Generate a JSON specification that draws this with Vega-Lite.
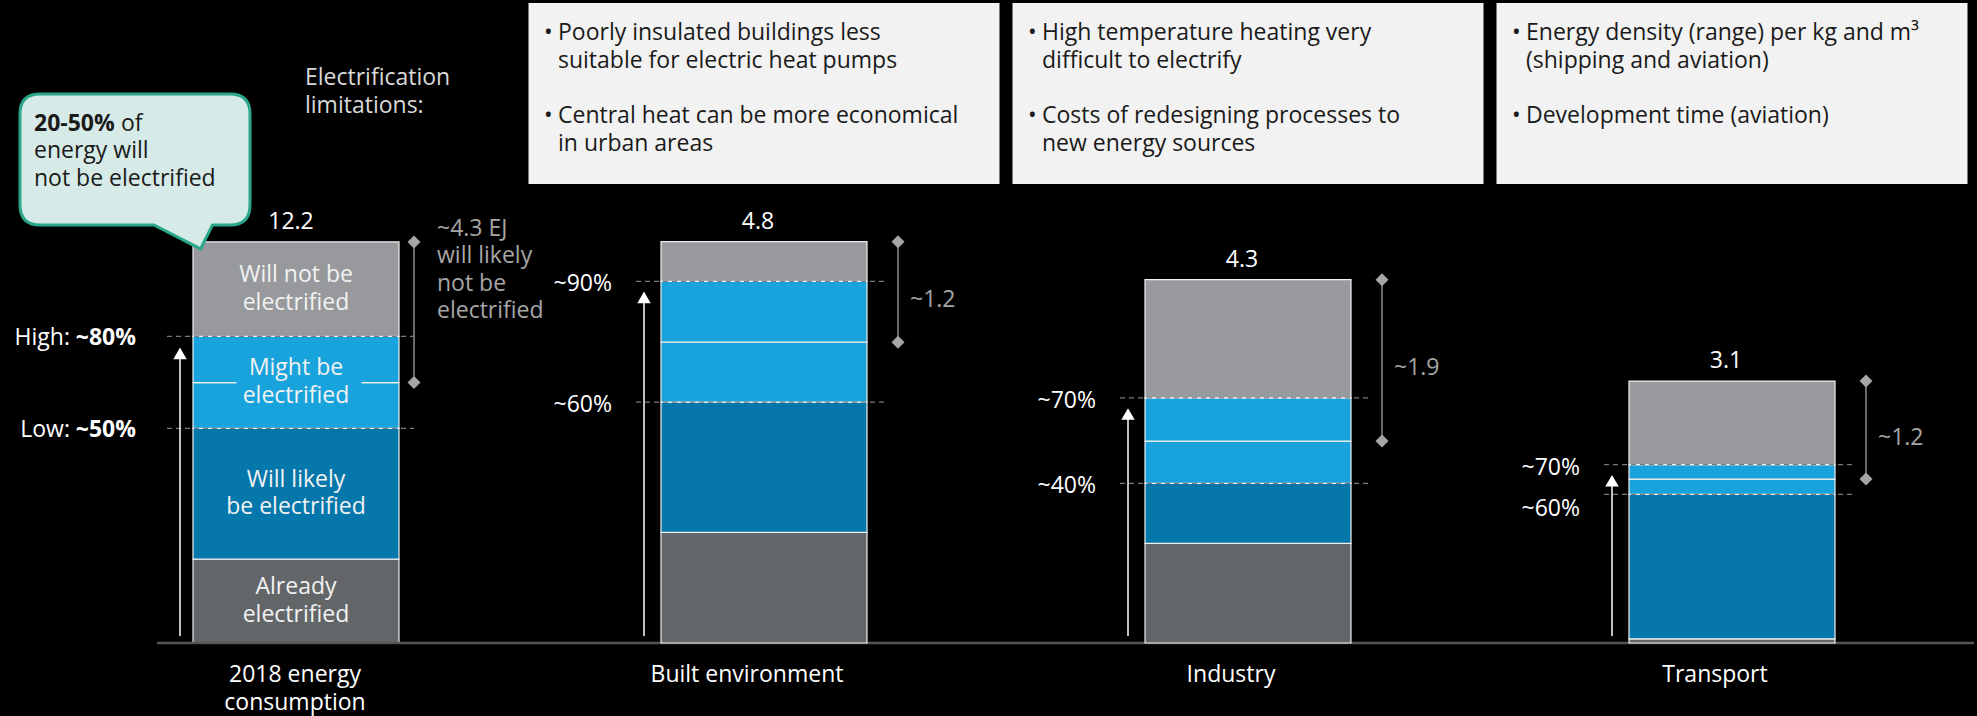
{
  "$schema": "https://vega.github.io/schema/vega-lite/v6.json",
  "width": 1936,
  "height": 643,
  "autosize": "none",
  "padding": {"left": 38, "right": 3, "top": 0, "bottom": 73},
  "background": "#000000",
  "config": {"view": {"stroke": null}, "font": "Open Sans"},
  "datasets": {
    "bars": [
      {"sector": "2018 energy consumption", "seg": "already", "category": "Already electrified", "order": 1, "value": 2.54, "label": "Already\nelectrified"},
      {"sector": "2018 energy consumption", "seg": "likely", "category": "Will likely be electrified", "order": 2, "value": 3.96, "label": "Will likely\nbe electrified", "pct": "~50%", "prefix": "Low:"},
      {"sector": "2018 energy consumption", "seg": "might_low", "category": "Might be electrified", "order": 3, "value": 1.39, "label": "Might be\nelectrified"},
      {"sector": "2018 energy consumption", "seg": "might_high", "category": "Might be electrified", "order": 4, "value": 1.40, "label": "Might be\nelectrified", "pct": "~80%", "prefix": "High:"},
      {"sector": "2018 energy consumption", "seg": "willnot", "category": "Will not be electrified", "order": 5, "value": 2.86, "label": "Will not be\nelectrified", "total": "12.2", "rangeLabel": "~4.3 EJ\nwill likely\nnot be\nelectrified"},
      {"sector": "Built environment", "seg": "already", "category": "Already electrified", "order": 1, "value": 1.31},
      {"sector": "Built environment", "seg": "likely", "category": "Will likely be electrified", "order": 2, "value": 1.54, "pct": "~60%"},
      {"sector": "Built environment", "seg": "might_low", "category": "Might be electrified", "order": 3, "value": 0.71},
      {"sector": "Built environment", "seg": "might_high", "category": "Might be electrified", "order": 4, "value": 0.72, "pct": "~90%"},
      {"sector": "Built environment", "seg": "willnot", "category": "Will not be electrified", "order": 5, "value": 0.47, "total": "4.8", "rangeLabel": "~1.2"},
      {"sector": "Industry", "seg": "already", "category": "Already electrified", "order": 1, "value": 1.18},
      {"sector": "Industry", "seg": "likely", "category": "Will likely be electrified", "order": 2, "value": 0.71, "pct": "~40%"},
      {"sector": "Industry", "seg": "might_low", "category": "Might be electrified", "order": 3, "value": 0.50},
      {"sector": "Industry", "seg": "might_high", "category": "Might be electrified", "order": 4, "value": 0.51, "pct": "~70%"},
      {"sector": "Industry", "seg": "willnot", "category": "Will not be electrified", "order": 5, "value": 1.40, "total": "4.3", "rangeLabel": "~1.9"},
      {"sector": "Transport", "seg": "already", "category": "Already electrified", "order": 1, "value": 0.05},
      {"sector": "Transport", "seg": "likely", "category": "Will likely be electrified", "order": 2, "value": 1.71, "pct": "~60%"},
      {"sector": "Transport", "seg": "might_low", "category": "Might be electrified", "order": 3, "value": 0.18},
      {"sector": "Transport", "seg": "might_high", "category": "Might be electrified", "order": 4, "value": 0.17, "pct": "~70%"},
      {"sector": "Transport", "seg": "willnot", "category": "Will not be electrified", "order": 5, "value": 0.99, "total": "3.1", "rangeLabel": "~1.2"}
    ],
    "header": [
      {"sector": "Built environment", "bullet": 1, "lines": "Poorly insulated buildings less\nsuitable for electric heat pumps"},
      {"sector": "Built environment", "bullet": 2, "lines": "Central heat can be more economical\nin urban areas"},
      {"sector": "Industry", "bullet": 1, "lines": "High temperature heating very\ndifficult to electrify"},
      {"sector": "Industry", "bullet": 2, "lines": "Costs of redesigning processes to\nnew energy sources"},
      {"sector": "Transport", "bullet": 1, "lines": "Energy density (range) per kg and m³\n(shipping and aviation)"},
      {"sector": "Transport", "bullet": 2, "lines": "Development time (aviation)"}
    ]
  },
  "encoding": {
    "x": {"field": "sector", "type": "nominal", "scale": {"domain": ["2018 energy consumption", "Built environment", "Industry", "Transport"], "paddingInner": 0.5744, "paddingOuter": 0.2872}, "axis": null}
  },
  "resolve": {"scale": {"y": "independent"}},
  "layer": [
    {
      "data": {"name": "bars"},
      "transform": [
        {"filter": "datum.sector === '2018 energy consumption'"},
        {"stack": "value", "groupby": ["sector"], "sort": [{"field": "order", "order": "ascending"}], "as": ["v0", "v1"]}
      ],
      "layer": [
        {
          "mark": {"type": "bar", "xOffset": 16, "stroke": "#f0f0f0", "strokeWidth": 1.2},
          "encoding": {
            "y": {"field": "v0", "type": "quantitative", "scale": {"domain": [0, 19.48], "nice": false, "zero": false}, "axis": null},
            "y2": {"field": "v1"},
            "color": {"field": "category", "type": "nominal", "scale": {"domain": ["Already electrified", "Will likely be electrified", "Might be electrified", "Will not be electrified"], "range": ["#636669", "#0677ab", "#19a3dc", "#97999c"]}, "legend": null}
          }
        },
        {
          "transform": [{"filter": "datum.seg === 'might_high'"}],
          "mark": {"type": "tick", "orient": "horizontal", "xOffset": 19, "size": 125, "thickness": 5, "color": "#19a3dc", "opacity": 1},
          "encoding": {"y": {"field": "v0", "type": "quantitative", "scale": {"domain": [0, 19.48], "nice": false, "zero": false}, "axis": null}}
        },
        {
          "transform": [{"filter": "isValid(datum.pct)"}],
          "mark": {"type": "rule", "xOffset": -113, "x2Offset": 134, "strokeDash": [5, 4], "color": "#7a7a7a", "strokeWidth": 1.2},
          "encoding": {
            "x2": {"field": "sector", "bandPosition": 0.5},
            "y": {"field": "v1", "type": "quantitative", "scale": {"domain": [0, 19.48], "nice": false, "zero": false}, "axis": null}
          }
        },
        {
          "transform": [{"filter": "isValid(datum.pct)"}],
          "mark": {"type": "text", "align": "right", "baseline": "middle", "fontSize": 23, "fontWeight": "bold", "color": "#ffffff", "dx": -144, "dy": 2},
          "encoding": {
            "y": {"field": "v1", "type": "quantitative", "scale": {"domain": [0, 19.48], "nice": false, "zero": false}, "axis": null},
            "text": {"field": "pct", "type": "nominal"}
          }
        },
        {
          "transform": [{"filter": "isValid(datum.prefix)"}],
          "mark": {"type": "text", "align": "right", "baseline": "middle", "fontSize": 23, "color": "#ffffff", "dx": -210, "dy": 2},
          "encoding": {
            "y": {"field": "v1", "type": "quantitative", "scale": {"domain": [0, 19.48], "nice": false, "zero": false}, "axis": null},
            "text": {"field": "prefix", "type": "nominal"}
          }
        },
        {
          "transform": [{"filter": "datum.seg === 'might_high'"}],
          "mark": {"type": "rule", "xOffset": -100, "yOffset": 20, "y2Offset": -7, "color": "#ffffff", "strokeWidth": 1.5},
          "encoding": {
            "y": {"field": "v1", "type": "quantitative", "scale": {"domain": [0, 19.48], "nice": false, "zero": false}, "axis": null},
            "y2": {"datum": 0}
          }
        },
        {
          "transform": [{"filter": "datum.seg === 'might_high'"}],
          "mark": {"type": "point", "shape": "triangle-up", "filled": true, "size": 180, "color": "#ffffff", "opacity": 1, "xOffset": -100, "yOffset": 17},
          "encoding": {"y": {"field": "v1", "type": "quantitative", "scale": {"domain": [0, 19.48], "nice": false, "zero": false}, "axis": null}}
        },
        {
          "transform": [{"filter": {"field": "seg", "oneOf": ["might_high", "willnot"]}}],
          "mark": {"type": "rule", "xOffset": 134, "color": "#8c8c8c", "strokeWidth": 1.5},
          "encoding": {
            "y": {"field": "v0", "aggregate": "min", "type": "quantitative", "scale": {"domain": [0, 19.48], "nice": false, "zero": false}, "axis": null},
            "y2": {"field": "v1", "aggregate": "max"}
          }
        },
        {
          "transform": [{"filter": {"field": "seg", "oneOf": ["might_high", "willnot"]}}],
          "mark": {"type": "point", "shape": "diamond", "filled": true, "size": 169, "color": "#a6a6a6", "opacity": 1, "xOffset": 134},
          "encoding": {"y": {"field": "v0", "aggregate": "min", "type": "quantitative", "scale": {"domain": [0, 19.48], "nice": false, "zero": false}, "axis": null}}
        },
        {
          "transform": [{"filter": {"field": "seg", "oneOf": ["might_high", "willnot"]}}],
          "mark": {"type": "point", "shape": "diamond", "filled": true, "size": 169, "color": "#a6a6a6", "opacity": 1, "xOffset": 134},
          "encoding": {"y": {"field": "v1", "aggregate": "max", "type": "quantitative", "scale": {"domain": [0, 19.48], "nice": false, "zero": false}, "axis": null}}
        },
        {
          "transform": [{"filter": "datum.seg === 'willnot'"}],
          "mark": {"type": "text", "align": "left", "baseline": "alphabetic", "fontSize": 23, "color": "#a6a6a6", "dx": 157, "dy": -6, "lineBreak": "\n", "lineHeight": 27.5},
          "encoding": {
            "y": {"field": "v1", "type": "quantitative", "scale": {"domain": [0, 19.48], "nice": false, "zero": false}, "axis": null},
            "text": {"field": "rangeLabel", "type": "nominal"}
          }
        },
        {
          "transform": [{"filter": "datum.seg === 'willnot'"}],
          "mark": {"type": "text", "align": "center", "baseline": "middle", "fontSize": 23, "color": "#ffffff", "dx": 11, "dy": -20},
          "encoding": {
            "y": {"field": "v1", "type": "quantitative", "scale": {"domain": [0, 19.48], "nice": false, "zero": false}, "axis": null},
            "text": {"field": "total", "type": "nominal"}
          }
        },
        {
          "transform": [
            {"filter": "isValid(datum.label)"},
            {"fold": ["v0", "v1"], "as": ["edge", "ev"]}
          ],
          "mark": {"type": "text", "align": "center", "baseline": "alphabetic", "fontSize": 23, "color": "#f2f2f2", "dx": 16, "dy": -7, "lineBreak": "\n", "lineHeight": 27.5},
          "encoding": {
            "y": {"field": "ev", "aggregate": "mean", "type": "quantitative", "scale": {"domain": [0, 19.48], "nice": false, "zero": false}, "axis": null},
            "text": {"field": "label", "type": "nominal"}
          }
        },
        {
          "transform": [{"filter": "datum.seg === 'willnot'"}],
          "mark": {"type": "text", "align": "center", "baseline": "alphabetic", "fontSize": 23, "color": "#ffffff", "dx": 15, "dy": 39, "lineBreak": "\n", "lineHeight": 28},
          "encoding": {
            "y": {"datum": 0, "type": "quantitative", "scale": {"domain": [0, 19.48], "nice": false, "zero": false}, "axis": null},
            "text": {"value": "2018 energy\nconsumption"}
          }
        },
        {
          "transform": [{"filter": "datum.seg === 'willnot'"}],
          "mark": {"type": "point", "shape": "M-0.826,-0.5696L0.826,-0.5696Q1,-0.5696 1,-0.3956L1,0.3956Q1,0.5696 0.826,0.5696L0.674,0.5696L0.57,0.778L0.165,0.5696L-0.826,0.5696Q-1,0.5696 -1,0.3956L-1,-0.3956Q-1,-0.5696 -0.826,-0.5696Z", "size": 52900, "filled": true, "fill": "#d6ebe7", "stroke": "#2aa68a", "strokeWidth": 3, "opacity": 1, "fillOpacity": 1, "xOffset": -145, "yOffset": -82.5},
          "encoding": {"y": {"field": "v1", "type": "quantitative", "scale": {"domain": [0, 19.48], "nice": false, "zero": false}, "axis": null}}
        },
        {
          "transform": [{"filter": "datum.seg === 'willnot'"}],
          "mark": {"type": "text", "align": "left", "baseline": "alphabetic", "fontSize": 23, "fontWeight": "bold", "color": "#1a1a1a", "dx": -246, "dy": -111},
          "encoding": {
            "y": {"field": "v1", "type": "quantitative", "scale": {"domain": [0, 19.48], "nice": false, "zero": false}, "axis": null},
            "text": {"value": "20-50%"}
          }
        },
        {
          "transform": [{"filter": "datum.seg === 'willnot'"}],
          "mark": {"type": "text", "align": "left", "baseline": "alphabetic", "fontSize": 23, "color": "#1a1a1a", "dx": -159, "dy": -111},
          "encoding": {
            "y": {"field": "v1", "type": "quantitative", "scale": {"domain": [0, 19.48], "nice": false, "zero": false}, "axis": null},
            "text": {"value": "of"}
          }
        },
        {
          "transform": [{"filter": "datum.seg === 'willnot'"}],
          "mark": {"type": "text", "align": "left", "baseline": "alphabetic", "fontSize": 23, "color": "#1a1a1a", "dx": -246, "dy": -84, "lineBreak": "\n", "lineHeight": 28},
          "encoding": {
            "y": {"field": "v1", "type": "quantitative", "scale": {"domain": [0, 19.48], "nice": false, "zero": false}, "axis": null},
            "text": {"value": "energy will\nnot be electrified"}
          }
        }
      ]
    },
    {
      "data": {"name": "bars"},
      "transform": [
        {"filter": "datum.sector !== '2018 energy consumption'"},
        {"stack": "value", "groupby": ["sector"], "sort": [{"field": "order", "order": "ascending"}], "as": ["v0", "v1"]}
      ],
      "layer": [
        {
          "transform": [{"filter": "datum.seg === 'willnot' && datum.sector === 'Transport'"}],
          "mark": {"type": "rule", "xOffset": -123, "x2Offset": 242, "color": "#555555", "strokeWidth": 2.5},
          "encoding": {
            "x": {"datum": "2018 energy consumption", "bandPosition": 0.5},
            "x2": {"datum": "Transport", "bandPosition": 0.5},
            "y": {"datum": 0, "type": "quantitative", "scale": {"domain": [0, 7.61], "nice": false, "zero": false}, "axis": null}
          }
        },
        {
          "mark": {"type": "bar", "stroke": "#f0f0f0", "strokeWidth": 1.2},
          "encoding": {
            "y": {"field": "v0", "type": "quantitative", "scale": {"domain": [0, 7.61], "nice": false, "zero": false}, "axis": null},
            "y2": {"field": "v1"},
            "color": {"field": "category", "type": "nominal", "legend": null}
          }
        },
        {
          "transform": [{"filter": "isValid(datum.pct)"}],
          "mark": {"type": "rule", "xOffset": -128, "x2Offset": 120, "strokeDash": [5, 4], "color": "#7a7a7a", "strokeWidth": 1.2},
          "encoding": {
            "x2": {"field": "sector", "bandPosition": 0.5},
            "y": {"field": "v1", "type": "quantitative", "scale": {"domain": [0, 7.61], "nice": false, "zero": false}, "axis": null}
          }
        },
        {
          "transform": [{"filter": "isValid(datum.pct) && !(datum.sector === 'Transport' && datum.seg === 'likely')"}],
          "mark": {"type": "text", "align": "right", "baseline": "middle", "fontSize": 23, "color": "#ffffff", "dx": -152, "dy": 3},
          "encoding": {
            "y": {"field": "v1", "type": "quantitative", "scale": {"domain": [0, 7.61], "nice": false, "zero": false}, "axis": null},
            "text": {"field": "pct", "type": "nominal"}
          }
        },
        {
          "transform": [{"filter": "datum.sector === 'Transport' && datum.seg === 'likely'"}],
          "mark": {"type": "text", "align": "right", "baseline": "middle", "fontSize": 23, "color": "#ffffff", "dx": -152, "dy": 15},
          "encoding": {
            "y": {"field": "v1", "type": "quantitative", "scale": {"domain": [0, 7.61], "nice": false, "zero": false}, "axis": null},
            "text": {"field": "pct", "type": "nominal"}
          }
        },
        {
          "transform": [{"filter": "datum.seg === 'might_high'"}],
          "mark": {"type": "rule", "xOffset": -120, "yOffset": 20, "y2Offset": -7, "color": "#ffffff", "strokeWidth": 1.5},
          "encoding": {
            "y": {"field": "v1", "type": "quantitative", "scale": {"domain": [0, 7.61], "nice": false, "zero": false}, "axis": null},
            "y2": {"datum": 0}
          }
        },
        {
          "transform": [{"filter": "datum.seg === 'might_high'"}],
          "mark": {"type": "point", "shape": "triangle-up", "filled": true, "size": 180, "color": "#ffffff", "opacity": 1, "xOffset": -120, "yOffset": 16},
          "encoding": {"y": {"field": "v1", "type": "quantitative", "scale": {"domain": [0, 7.61], "nice": false, "zero": false}, "axis": null}}
        },
        {
          "transform": [{"filter": {"field": "seg", "oneOf": ["might_high", "willnot"]}}],
          "mark": {"type": "rule", "xOffset": 134, "color": "#8c8c8c", "strokeWidth": 1.5},
          "encoding": {
            "y": {"field": "v0", "aggregate": "min", "type": "quantitative", "scale": {"domain": [0, 7.61], "nice": false, "zero": false}, "axis": null},
            "y2": {"field": "v1", "aggregate": "max"}
          }
        },
        {
          "transform": [{"filter": {"field": "seg", "oneOf": ["might_high", "willnot"]}}],
          "mark": {"type": "point", "shape": "diamond", "filled": true, "size": 169, "color": "#a6a6a6", "opacity": 1, "xOffset": 134},
          "encoding": {"y": {"field": "v0", "aggregate": "min", "type": "quantitative", "scale": {"domain": [0, 7.61], "nice": false, "zero": false}, "axis": null}}
        },
        {
          "transform": [{"filter": {"field": "seg", "oneOf": ["might_high", "willnot"]}}],
          "mark": {"type": "point", "shape": "diamond", "filled": true, "size": 169, "color": "#a6a6a6", "opacity": 1, "xOffset": 134},
          "encoding": {"y": {"field": "v1", "aggregate": "max", "type": "quantitative", "scale": {"domain": [0, 7.61], "nice": false, "zero": false}, "axis": null}}
        },
        {
          "transform": [
            {"filter": {"field": "seg", "oneOf": ["might_high", "willnot"]}},
            {"joinaggregate": [{"op": "min", "field": "v0", "as": "r0"}, {"op": "max", "field": "v1", "as": "r1"}], "groupby": ["sector"]},
            {"filter": "datum.seg === 'willnot'"},
            {"fold": ["r0", "r1"], "as": ["edge", "rv"]}
          ],
          "mark": {"type": "text", "align": "left", "baseline": "middle", "fontSize": 23, "color": "#a6a6a6", "dx": 146, "dy": 8},
          "encoding": {
            "y": {"field": "rv", "aggregate": "mean", "type": "quantitative", "scale": {"domain": [0, 7.61], "nice": false, "zero": false}, "axis": null},
            "text": {"field": "rangeLabel", "type": "nominal"}
          }
        },
        {
          "transform": [{"filter": "datum.seg === 'willnot'"}],
          "mark": {"type": "text", "align": "center", "baseline": "middle", "fontSize": 23, "color": "#ffffff", "dx": -6, "dy": -20},
          "encoding": {
            "y": {"field": "v1", "type": "quantitative", "scale": {"domain": [0, 7.61], "nice": false, "zero": false}, "axis": null},
            "text": {"field": "total", "type": "nominal"}
          }
        },
        {
          "transform": [{"filter": "datum.seg === 'willnot'"}],
          "mark": {"type": "text", "align": "center", "baseline": "alphabetic", "fontSize": 23, "color": "#ffffff", "dx": -17, "dy": 39},
          "encoding": {
            "y": {"datum": 0, "type": "quantitative", "scale": {"domain": [0, 7.61], "nice": false, "zero": false}, "axis": null},
            "text": {"field": "sector", "type": "nominal"}
          }
        }
      ]
    },
    {
      "data": {"name": "header"},
      "layer": [
        {
          "transform": [{"filter": "datum.bullet === 1"}],
          "mark": {"type": "bar", "width": 471, "color": "#f2f2f2", "yOffset": -37, "y2Offset": 61},
          "encoding": {
            "y": {"datum": 1, "type": "quantitative", "scale": {"domain": [1, 2], "range": [40, 123], "nice": false, "zero": false}, "axis": null},
            "y2": {"datum": 2}
          }
        },
        {
          "mark": {"type": "text", "align": "left", "baseline": "alphabetic", "fontSize": 23, "color": "#1a1a1a", "dx": -220},
          "encoding": {
            "y": {"field": "bullet", "type": "quantitative", "scale": {"domain": [1, 2], "range": [40, 123], "nice": false, "zero": false}, "axis": null},
            "text": {"value": "•"}
          }
        },
        {
          "mark": {"type": "text", "align": "left", "baseline": "alphabetic", "fontSize": 23, "color": "#1a1a1a", "dx": -206, "lineBreak": "\n", "lineHeight": 28},
          "encoding": {
            "y": {"field": "bullet", "type": "quantitative", "scale": {"domain": [1, 2], "range": [40, 123], "nice": false, "zero": false}, "axis": null},
            "text": {"field": "lines", "type": "nominal"}
          }
        },
        {
          "data": {"values": [{"note": "Electrification\nlimitations:"}]},
          "mark": {"type": "text", "align": "left", "baseline": "alphabetic", "fontSize": 23, "color": "#d9d9d9", "dx": 25, "dy": 45, "lineBreak": "\n", "lineHeight": 28},
          "encoding": {
            "x": {"datum": "2018 energy consumption"},
            "y": {"datum": 1, "type": "quantitative", "scale": {"domain": [1, 2], "range": [40, 123], "nice": false, "zero": false}, "axis": null},
            "text": {"field": "note", "type": "nominal"}
          }
        }
      ]
    }
  ]
}
